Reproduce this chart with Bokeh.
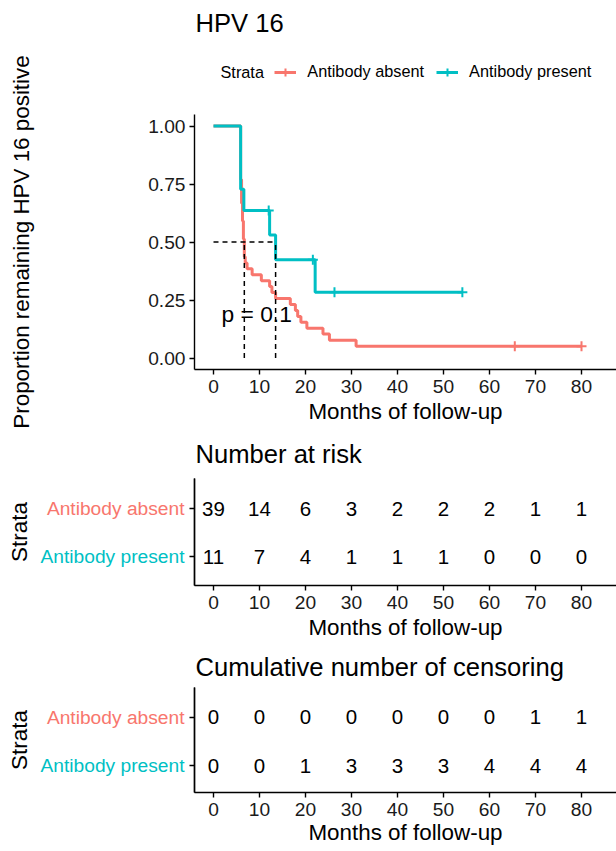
from bokeh.plotting import figure
from bokeh.models import (Range1d, FixedTicker, NumeralTickFormatter, Label, Legend,
                          LegendItem, LinearAxis)
from bokeh.layouts import column
from bokeh.embed import file_html
from bokeh.resources import INLINE
from bokeh.core.properties import value

# ---------------- data ----------------
strata = ["Antibody absent", "Antibody present"]
strata_colors = ["#F8766D", "#00BFC4"]

absent_time = [0, 5.9, 6.1, 6.3, 6.5, 6.7, 6.9, 7.3, 8.4, 10.4, 12.2, 12.7, 13.5,
               16.7, 17.8, 18.3, 19.0, 20.3, 23.8, 25.2, 31.0, 80.0]
absent_surv = [1.000, 0.769, 0.667, 0.590, 0.513, 0.436, 0.410, 0.385, 0.359, 0.333,
               0.308, 0.282, 0.256, 0.231, 0.205, 0.179, 0.154, 0.128, 0.103, 0.077,
               0.051, 0.051]
present_time = [0, 5.9, 6.6, 12.2, 13.5, 22.1, 54.1]
present_surv = [1.000, 0.727, 0.636, 0.530, 0.424, 0.283, 0.283]

absent_censor_time = [65.5, 80.0]
absent_censor_surv = [0.051, 0.051]
present_censor_time = [12.0, 21.6, 26.3, 54.1]
present_censor_surv = [0.636, 0.424, 0.283, 0.283]

median_time = [6.7, 13.5]
median_level = 0.5
p_value_text = "p = 0.1"

tick_months = [0, 10, 20, 30, 40, 50, 60, 70, 80]
surv_ticks = [0.0, 0.25, 0.5, 0.75, 1.0]

risk_absent = [39, 14, 6, 3, 2, 2, 2, 1, 1]
risk_present = [11, 7, 4, 1, 1, 1, 0, 0, 0]
cens_absent = [0, 0, 0, 0, 0, 0, 0, 1, 1]
cens_present = [0, 0, 1, 3, 3, 3, 4, 4, 4]

main_title = "HPV 16"
x_title = "Months of follow-up"
y_title = "Proportion remaining HPV 16 positive"
legend_title = "Strata"
risk_title = "Number at risk"
cens_title = "Cumulative number of censoring"

# ---------------- layout geometry (page pixels) ----------------
FONT = "Liberation Sans"
W = 616
PAGE_LEFT = 0
X0_PAGE = 213.0          # page x of month 0
PX_PER_MONTH = 4.6
AXIS_X_PAGE = 194.0      # page x of the y axis line
X_START = (PAGE_LEFT - X0_PAGE) / PX_PER_MONTH
X_END = (PAGE_LEFT + W - X0_PAGE) / PX_PER_MONTH
X_AXIS_LEFT = (AXIS_X_PAGE - X0_PAGE) / PX_PER_MONTH


def px_to_x(px):
    return (px - X0_PAGE) / PX_PER_MONTH


class YMap:
    def __init__(self, page_ref, y_ref, ppu):
        self.page_ref, self.y_ref, self.ppu = page_ref, y_ref, ppu

    def __call__(self, page_y):
        return self.y_ref + (self.page_ref - page_y) / self.ppu


def style_axis(ax, label, label_standoff):
    ax.axis_label = label
    ax.axis_label_text_font = FONT
    ax.axis_label_text_font_size = "22.4px"
    ax.axis_label_text_font_style = "normal"
    ax.axis_label_text_color = "black"
    ax.axis_label_standoff = label_standoff
    ax.major_label_text_font = FONT
    ax.major_label_text_font_size = "19.2px"
    ax.major_label_text_color = "#1a1a1a"
    ax.major_label_standoff = 5
    ax.axis_line_color = "black"
    ax.axis_line_width = 1.4
    ax.major_tick_line_color = "black"
    ax.major_tick_line_width = 1.4
    ax.major_tick_out = 5
    ax.major_tick_in = 0
    ax.minor_tick_line_color = None


def base_fig(page_top, height, ymap, y_axis_bottom_page, y_axis_top_page, xlabel_standoff=3):
    yr = (ymap(page_top + height), ymap(page_top))
    f = figure(width=W, height=height, x_range=Range1d(X_START, X_END),
               y_range=Range1d(*yr), output_backend="svg", toolbar_location=None,
               min_border=0)
    f.grid.visible = False
    f.outline_line_color = None
    xa = f.xaxis[0]
    xa.ticker = FixedTicker(ticks=tick_months)
    xa.fixed_location = ymap(y_axis_bottom_page)
    xa.bounds = (X_AXIS_LEFT, X_END)
    style_axis(xa, x_title, xlabel_standoff)
    ya = f.yaxis[0]
    ya.fixed_location = X_AXIS_LEFT
    ya.bounds = (ymap(y_axis_bottom_page), ymap(y_axis_top_page))
    return f


def add_text_label(f, x, y, text, size, color="black", align="left"):
    f.add_layout(Label(x=x, y=y, text=text, text_font=FONT, text_font_size=size,
                       text_color=color, text_align=align, text_baseline="middle"))


# ---------------- main KM plot ----------------
MAIN_TOP, MAIN_H = 0, 436
ym = YMap(357.5, 0.0, 232.0)
p = base_fig(MAIN_TOP, MAIN_H, ym, 357.5 + 0.05 * 232, 357.5 - 1.05 * 232)
p.yaxis.ticker = FixedTicker(ticks=surv_ticks)
p.yaxis.formatter = NumeralTickFormatter(format="0.00")
style_axis(p.yaxis[0], y_title, 111)
p.yaxis.major_label_standoff = 4

r_line_a = p.step(absent_time, absent_surv, mode="after", line_color=strata_colors[0], line_width=3)
r_line_p = p.step(present_time, present_surv, mode="after", line_color=strata_colors[1], line_width=3)
r_cen_a = p.scatter(absent_censor_time, absent_censor_surv, marker="cross", size=10,
                    line_color=strata_colors[0], line_width=2)
r_cen_p = p.scatter(present_censor_time, present_censor_surv, marker="cross", size=10,
                    line_color=strata_colors[1], line_width=2)

# median survival lines
p.segment(x0=[0], y0=[median_level], x1=[max(median_time)], y1=[median_level],
          line_color="black", line_width=1.5, line_dash="5 4")
p.segment(x0=median_time, y0=[0] * len(median_time), x1=median_time,
          y1=[median_level] * len(median_time),
          line_color="black", line_width=1.5, line_dash="5 4")

add_text_label(p, 1.74, 0.19, p_value_text, "22.8px")
add_text_label(p, px_to_x(195), ym(22.5), main_title, "25.6px")
add_text_label(p, px_to_x(220), ym(71.7), legend_title, "16.3px")

legend = Legend(items=[LegendItem(label=strata[0], renderers=[r_line_a, r_cen_a]),
                       LegendItem(label=strata[1], renderers=[r_line_p, r_cen_p])],
                location=(274.3 - PAGE_LEFT, MAIN_TOP + MAIN_H - 81.7),
                orientation="horizontal",
                glyph_width=22, glyph_height=20, label_standoff=11, spacing=12,
                padding=0, margin=0, border_line_color=None, background_fill_alpha=0,
                label_text_font=FONT, label_text_font_size="16.3px", label_text_color="black")
p.add_layout(legend)


# ---------------- tables ----------------
def table_fig(page_top, height, ymap, top_page, axis_page, title, title_page,
              vals_absent, vals_present, xlabel_standoff):
    t = base_fig(page_top, height, ymap, axis_page, top_page, xlabel_standoff)
    # inner axis: first stratum label (and the axis line)
    ya = t.yaxis[0]
    ya.ticker = FixedTicker(ticks=[2])
    ya.major_label_overrides = {2: strata[0]}
    style_axis(ya, "", 0)
    ya.major_label_text_color = strata_colors[0]
    # second axis at the same place: second stratum label and the "Strata" title
    yb = LinearAxis(fixed_location=X_AXIS_LEFT, bounds=ya.bounds,
                    ticker=FixedTicker(ticks=[1]), major_label_overrides={1: strata[1]})
    style_axis(yb, legend_title, 6)
    yb.major_label_text_color = strata_colors[1]
    t.add_layout(yb, "left")

    xs = tick_months + tick_months
    ys = [2] * len(tick_months) + [1] * len(tick_months)
    txt = [str(v) for v in vals_absent] + [str(v) for v in vals_present]
    t.text(x=xs, y=ys, text=txt, text_font=value(FONT), text_font_size="20.5px",
           text_color="black", text_align="center", text_baseline="middle")
    add_text_label(t, px_to_x(195), ymap(title_page), title, "25.6px")
    return t


y1 = YMap(556.0, 1.0, 48.0)
t1 = table_fig(436, 209, y1, 478, 585, risk_title, 453, risk_absent, risk_present, 3)
y2 = YMap(765.0, 1.0, 48.5)
t2 = table_fig(645, 206, y2, 687, 792, cens_title, 666, cens_absent, cens_present, 1)

layout = column(p, t1, t2, spacing=0)
open("out.html", "w").write(file_html(layout, INLINE))
